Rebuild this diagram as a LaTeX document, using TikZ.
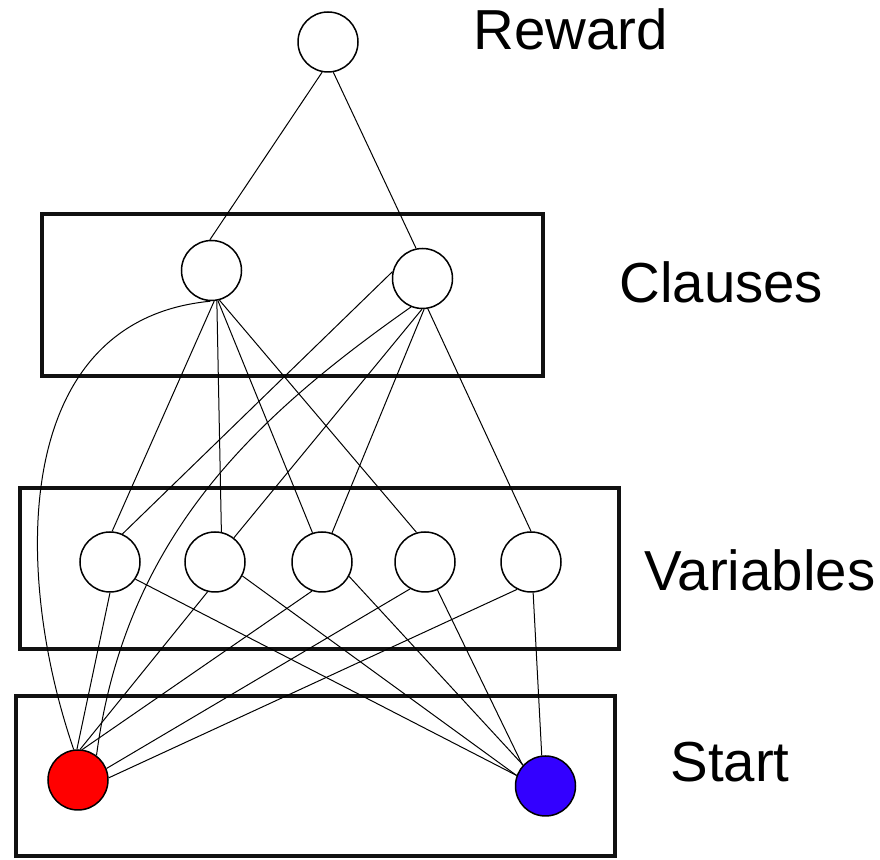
\documentclass[tikz,border=0pt]{standalone}
\usepackage{fontspec}
\setmainfont{Liberation Sans}
\definecolor{redfill}{HTML}{FF0000}
\definecolor{bluefill}{HTML}{3300FF}
\definecolor{boxline}{HTML}{111111}
\begin{document}
\begin{tikzpicture}[x=0.5pt,y=-0.5pt,
  unit/.style={circle,draw=black,line width=0.75pt,minimum size=30pt,inner sep=0pt,fill=white},
  groupbox/.style={draw=boxline,line width=2.2pt},
  edge/.style={draw=black,line width=0.5pt},
  lab/.style={anchor=base west,inner sep=0pt,font=\fontsize{28.2}{31}\selectfont}]
\useasboundingbox (0,0) rectangle (880,860);
% boxes
\draw[groupbox] (42,214) rectangle (543,376);
\draw[groupbox] (20,488) rectangle (619,649);
\draw[groupbox] (16,696) rectangle (615,856);
% nodes
\node[unit] (r) at (328,42) {};
\node[unit] (c1) at (211.5,270.5) {};
\node[unit] (c2) at (422.5,278.5) {};
\node[unit] (v1) at (110,562) {};
\node[unit] (v2) at (215,562) {};
\node[unit] (v3) at (322,562) {};
\node[unit] (v4) at (425,562) {};
\node[unit] (v5) at (531,562) {};
\node[unit,fill=redfill] (s1) at (78,780) {};
\node[unit,fill=bluefill] (s2) at (545.5,786) {};
% labels
\node[lab] (lr) at (473,50) {Reward};
\node[lab] (lc) at (619,303) {Clauses};
\node[lab] (lv) at (644,591) {Variables};
\node[lab] (ls) at (670,782) {Start};
% reward edges
\draw[edge] (r.-101) -- (c1.93);
\draw[edge] (r.-80) -- (c2.102);
% clause 1 edges
\draw[edge] (c1.-92) .. controls (12,320) and (12,570) .. (s1.98);
\draw[edge] (c1.-85) -- (v1.86);
\draw[edge] (c1.-80) -- (v2.78);
\draw[edge] (c1.-78) -- (v3.108);
\draw[edge] (c1.-75) -- (v4.106);
% clause 2 edges
\draw[edge] (c2.167) -- (v1.66);
\draw[edge] (c2.-112) .. controls (250,420) and (125,540) .. (s1.53);
\draw[edge] (c2.-91) -- (v2.52);
\draw[edge] (c2.-87) -- (v3.71);
\draw[edge] (c2.-80) -- (v5.90);
% variable to start edges
\draw[edge] (v1.-90) -- (s1.92);
\draw[edge] (v1.-34) -- (s2.160);
\draw[edge] (v2.-104) -- (s1.86);
\draw[edge] (v2.-27) -- (s2.160);
\draw[edge] (v3.-109) -- (s1.82);
\draw[edge] (v3.-28) -- (s2.137);
\draw[edge] (v4.-119) -- (s1.22);
\draw[edge] (v4.-66) -- (s2.138);
\draw[edge] (v5.-117) -- (s1.4);
\draw[edge] (v5.-86) -- (s2.97);
\end{tikzpicture}
\end{document}
